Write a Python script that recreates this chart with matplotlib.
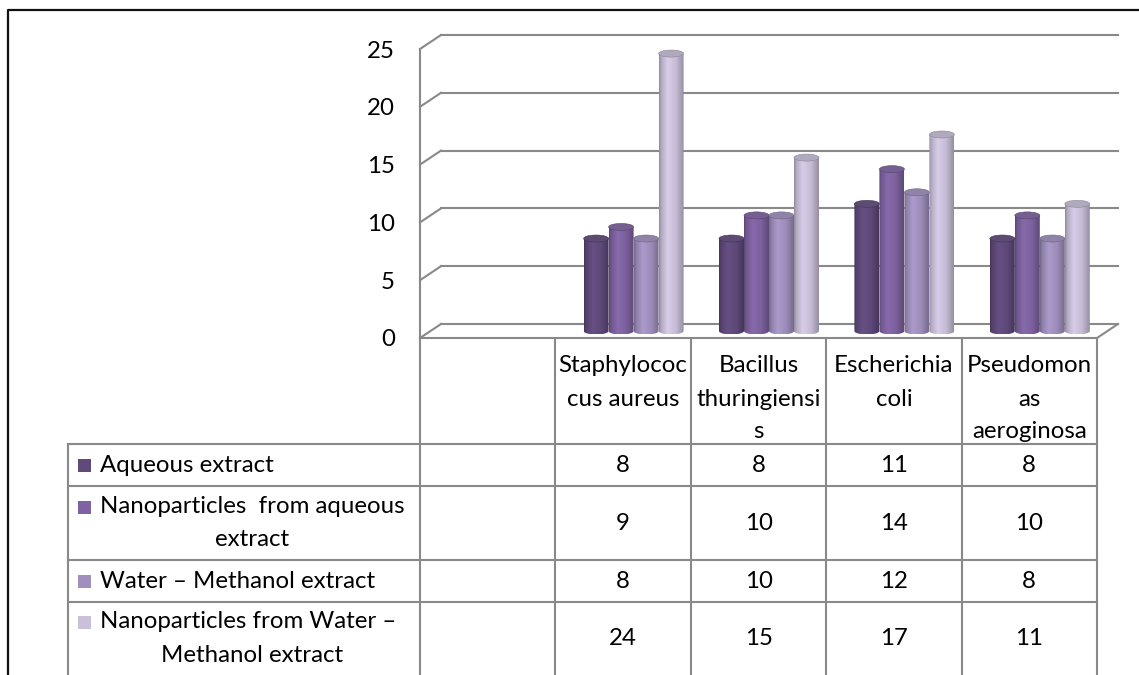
import numpy as np
import matplotlib
matplotlib.use('Agg')
import matplotlib.pyplot as plt
from matplotlib.patches import Ellipse, PathPatch, Rectangle
from matplotlib.path import Path
from matplotlib.colors import to_rgb

plt.rcParams['font.family'] = ['Lato', 'DejaVu Sans']

# first category is left blank in the sheet
categories = ["", "Staphylococcus aureus", "Bacillus thuringiensis", "Escherichia coli", "Pseudomonas aeroginosa"]
header_lines = [[], ["Staphylococ", "cus aureus"], ["Bacillus", "thuringiensi", "s"],
                ["Escherichia", "coli"], ["Pseudomon", "as", "aeroginosa"]]
series_names = ["Aqueous extract", "Nanoparticles  from aqueous extract",
                "Water – Methanol extract", "Nanoparticles from Water – Methanol extract"]
legend_lines = [["Aqueous extract"], ["Nanoparticles  from aqueous", "extract"],
                ["Water – Methanol extract"], ["Nanoparticles from Water –", "Methanol extract"]]
aqueous = [np.nan, 8, 8, 11, 8]
nano_aqueous = [np.nan, 9, 10, 14, 10]
water_methanol = [np.nan, 8, 10, 12, 8]
nano_water_methanol = [np.nan, 24, 15, 17, 11]
series = [aqueous, nano_aqueous, water_methanol, nano_water_methanol]
colors = ['#604A7B', '#7F63A1', '#A090BE', '#CAC0DA']
yticks = [0, 5, 10, 15, 20, 25]

W, H = 1139, 675
GRID = '#898989'
FS = 17.3

fig = plt.figure(figsize=(W / 100, H / 100), dpi=100)

# page-level overlay in pixel units for frame and data table
bg = fig.add_axes([0, 0, 1, 1])
bg.set_xlim(0, W)
bg.set_ylim(H, 0)
bg.axis('off')
bg.plot([8, 8, W], [H, 10, 10], color='#111111', lw=1.6, solid_capstyle='butt')

# chart area: front plane of the 3D box
XL, XR, Y0, YT = 420, 1097, 338, 49
ax = fig.add_axes([XL / W, 1 - Y0 / H, (XR - XL) / W, (Y0 - YT) / H])
ax.set_xlim(-0.5, len(categories) - 0.5)
ax.set_ylim(0, 25)
ax.patch.set_alpha(0)
px_x = (XR - XL) / len(categories)
px_y = (Y0 - YT) / 25.0
DX, DY = 21 / px_x, 14 / px_y   # depth of the box in data units

for s in ['top', 'right', 'bottom']:
    ax.spines[s].set_visible(False)
ax.spines['left'].set_color(GRID)
ax.spines['left'].set_linewidth(1.5)
ax.set_xticks([])
ax.set_yticks(yticks)
ax.tick_params(axis='y', length=0, pad=18, labelsize=FS)

x_lo, x_hi = -0.5, len(categories) - 0.5
for v in yticks:
    ax.plot([x_lo + DX, x_hi + DX], [v + DY, v + DY], color=GRID, lw=1.5, clip_on=False, zorder=1)
    ax.plot([x_lo, x_lo + DX], [v, v + DY], color=GRID, lw=1.5, clip_on=False, zorder=1)
ax.plot([x_lo, x_hi], [0, 0], color=GRID, lw=1.5, clip_on=False, zorder=1)
ax.plot([x_hi, x_hi + DX], [0, DY], color=GRID, lw=1.5, clip_on=False, zorder=1)

# cylinders
bw = 25 / px_x
eh = 7 / px_y
base = DY / 2
prof_t = [0, 0.08, 0.35, 0.7, 1.0]
prof_f = [0.72, 0.88, 1.07, 0.97, 0.74]
t = np.linspace(0, 1, 48)
f = np.interp(t, prof_t, prof_f)
theta = np.linspace(np.pi, 2 * np.pi, 40)

z = 3
for i, (vals, col) in enumerate(zip(series, colors)):
    c = np.array(to_rgb(col))
    grad = np.clip(c[None, :] * f[:, None], 0, 1)[None, :, :]
    top_col = np.clip(c * 0.80 + 0.06, 0, 1)
    for j, v in enumerate(vals):
        if np.isnan(v):
            continue
        cx = j + DX / 2 + (i - 1.5) * bw
        x0, x1 = cx - bw / 2, cx + bw / 2
        top = base + v
        arc = np.column_stack([cx - bw / 2 * np.cos(theta - np.pi),
                               base + eh / 2 * np.sin(theta)])
        verts = np.vstack([[[x0, top]], arc, [[x1, top]], [[x0, top]]])
        body = PathPatch(Path(verts, closed=True), facecolor='none', edgecolor='none',
                         transform=ax.transData)
        ax.add_patch(body)
        im = ax.imshow(grad, extent=[x0, x1, base - eh / 2, top], aspect='auto',
                       interpolation='bilinear', zorder=z, clip_on=True)
        im.set_clip_path(body)
        ax.add_patch(Ellipse((cx, top), bw, eh, facecolor=top_col,
                             edgecolor=np.clip(c * 0.7, 0, 1), lw=0.4, zorder=z + 0.5, clip_on=False))
        z += 1

ax.set_xlim(x_lo, x_hi)
ax.set_ylim(0, 25)

# data table below the chart
col_edges = [XL + px_x * k for k in range(len(categories) + 1)]
row_edges = [444, 486, 560, 602, H]
LEG_L = 68
for x in col_edges:
    bg.plot([x, x], [Y0 + 1, H], color=GRID, lw=1.5)
bg.plot([LEG_L, LEG_L], [row_edges[0], H], color=GRID, lw=1.5)
for y in row_edges[:-1]:
    bg.plot([LEG_L, XR], [y, y], color=GRID, lw=1.5)

LS = 33
for k, lines in enumerate(header_lines):
    cx = (col_edges[k] + col_edges[k + 1]) / 2
    for n, line in enumerate(lines):
        bg.text(cx, 366 + n * LS, line, ha='center', va='center', fontsize=FS)

leg_cx = 252
for r, (lines, vals, col) in enumerate(zip(legend_lines, series, colors)):
    y_top, y_bot = row_edges[r], row_edges[r + 1]
    ymid = (y_top + y_bot) / 2
    y_first = ymid - (len(lines) - 1) * LS / 2
    bg.add_patch(Rectangle((78, y_first - 6), 13, 13, facecolor=col, edgecolor='none'))
    bg.text(100, y_first, lines[0], ha='left', va='center', fontsize=FS)
    for n, line in enumerate(lines[1:], start=1):
        bg.text(leg_cx, y_first + n * LS, line, ha='center', va='center', fontsize=FS)
    for k, v in enumerate(vals):
        if np.isnan(v):
            continue
        cx = (col_edges[k] + col_edges[k + 1]) / 2
        bg.text(cx, ymid, f"{v:g}", ha='center', va='center', fontsize=FS)

fig.savefig('out.png', dpi=100)
